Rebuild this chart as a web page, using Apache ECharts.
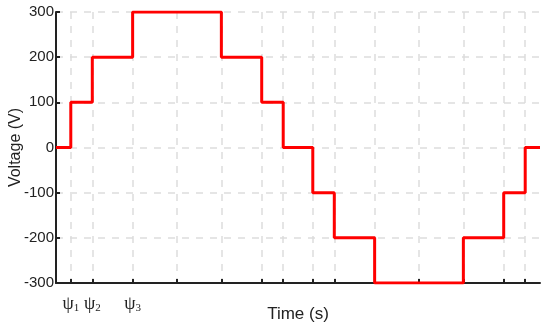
<!DOCTYPE html>
<html>
<head>
<meta charset="utf-8">
<script src="https://cdn.jsdelivr.net/npm/echarts@6/dist/echarts.min.js"></script>
<style>
  html, body { margin: 0; padding: 0; background: #fff; }
  #chart { width: 550px; height: 327px; }
</style>
</head>
<body>
<div id="chart"></div>
<script>
// Switching angles (deg) over a quarter period
const psi = [11, 27, 57];
// Voltage levels of the staircase, one per segment
const levels = [0, 100, 200, 300, 200, 100, 0, -100, -200, -300, -200, -100, 0];
const yTicks = [-300, -200, -100, 0, 100, 200, 300];
const psiLabels = ['1', '2', '3'];

// Transition angles over the full period (quarter-wave symmetry)
const switches = [
    psi[0], psi[1], psi[2],
    180 - psi[2], 180 - psi[1], 180 - psi[0],
    180 + psi[0], 180 + psi[1], 180 + psi[2],
    360 - psi[2], 360 - psi[1], 360 - psi[0]
];
const tickValues = [psi[0], psi[1], psi[2], 90, 180 - psi[2], 180 - psi[1], 180 - psi[0],
    180 + psi[0], 180 + psi[1], 180 + psi[2], 270, 360 - psi[2], 360 - psi[1], 360 - psi[0]];

// Build step points
const points = [[0, levels[0]]];
switches.forEach((s, i) => {
    points.push([s, levels[i]]);
    points.push([s, levels[i + 1]]);
});
points.push([360, levels[levels.length - 1]]);

const chart = echarts.init(document.getElementById('chart'));

const option = {
    animation: false,
    grid: { left: 56, right: 10, top: 12, bottom: 44, outerBoundsMode: 'none', containLabel: false },
    xAxis: {
        type: 'value',
        min: 0,
        max: 360,
        name: 'Time (s)',
        nameLocation: 'middle',
        nameGap: 23,
        nameMoveOverlap: false,
        nameTextStyle: { fontFamily: 'Liberation Sans', fontSize: 17, color: '#222' },
        axisLine: { onZero: false, lineStyle: { color: '#222', width: 2 } },
        axisTick: {
            inside: true,
            length: 4,
            customValues: tickValues,
            lineStyle: { color: '#222', width: 2 }
        },
        axisLabel: {
            customValues: psi,
            margin: 12,
            formatter: function (v) {
                const i = psi.indexOf(v);
                return i >= 0 ? '{p|ψ}{s|' + psiLabels[i] + '}' : '';
            },
            rich: {
                p: { fontFamily: 'Liberation Serif', fontSize: 18, color: '#222' },
                s: { fontFamily: 'Liberation Serif', fontSize: 11, color: '#222', padding: [8, 0, 0, 0] }
            }
        },
        splitLine: {
            show: true,
            lineStyle: { color: '#ddd', type: [7, 7], width: 1.5 }
        }
    },
    yAxis: {
        type: 'value',
        min: -300,
        max: 300,
        interval: 100,
        name: 'Voltage (V)',
        nameLocation: 'middle',
        nameGap: 32,
        nameMoveOverlap: false,
        nameTextStyle: { fontFamily: 'Liberation Sans', fontSize: 16, color: '#222' },
        axisLine: { show: true, onZero: false, lineStyle: { color: '#222', width: 2 } },
        axisTick: { show: true, inside: true, length: 4, lineStyle: { color: '#222', width: 2 } },
        axisLabel: {
            margin: 2,
            fontFamily: 'Liberation Sans',
            fontSize: 15,
            color: '#222',
            formatter: v => yTicks.includes(v) ? String(v) : ''
        },
        splitLine: {
            show: true,
            lineStyle: { color: '#ddd', type: [7, 7], width: 1.5 }
        }
    },
    series: [{
        type: 'line',
        data: points,
        symbol: 'none',
        lineStyle: { color: '#ff0000', width: 3 },
        z: 5
    }]
};

chart.setOption(option);
</script>
</body>
</html>
